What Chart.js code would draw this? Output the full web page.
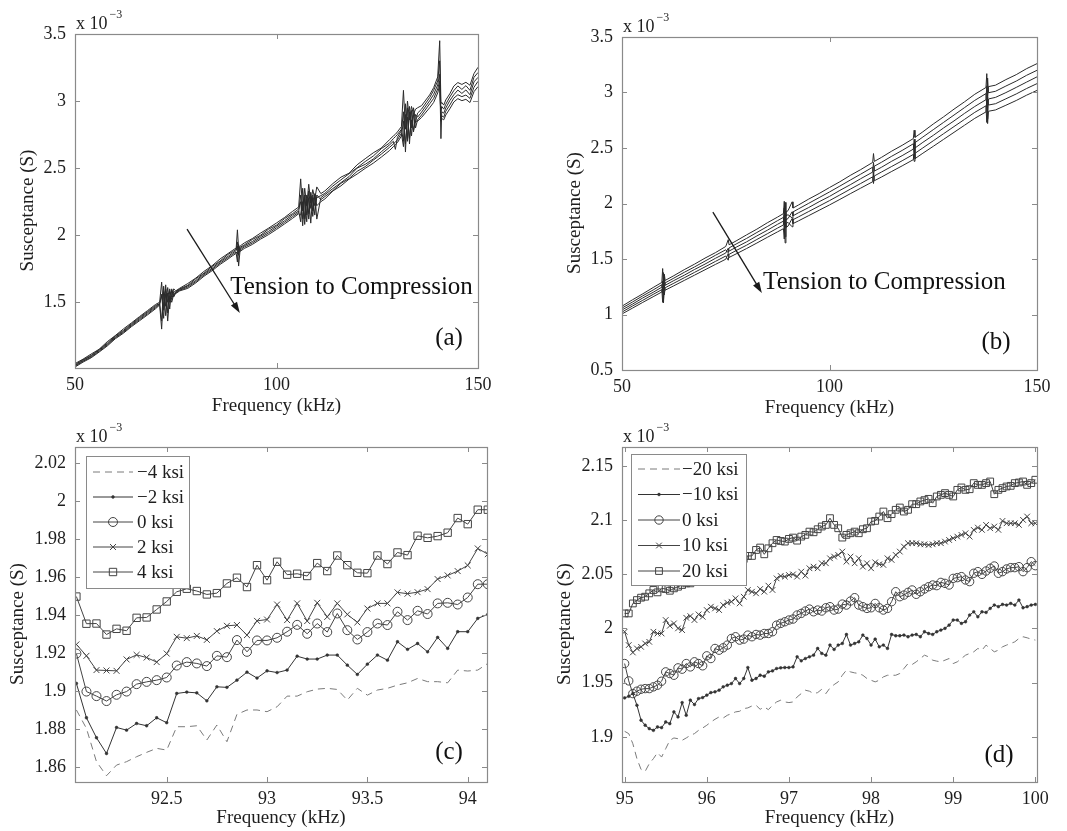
<!DOCTYPE html>
<html>
<head>
<meta charset="utf-8">
<title>Susceptance vs frequency</title>
<script src="https://cdn.jsdelivr.net/npm/chart.js@4.4.1/dist/chart.umd.min.js"></script>
<style>
  html, body { margin: 0; padding: 0; background: #fff; }
  #page { position: relative; width: 1067px; height: 831px; overflow: hidden; background: #fff; }
  canvas { position: absolute; }
</style>
</head>
<body>
<div id="page">
  <canvas id="chartA" width="493" height="414" style="left:5px;top:4px"></canvas>
  <canvas id="chartB" width="505" height="413" style="left:552px;top:7px"></canvas>
  <canvas id="chartC" width="502" height="415" style="left:5px;top:417px"></canvas>
  <canvas id="chartD" width="505" height="415" style="left:552px;top:417px"></canvas>
</div>
<script>
// ---- panel (a): 50-150 kHz, lines from tension (1) to compression (5), x10^-3 S
const freqA = [50,52,54,56,58,60,62,64,66,68,70,
  71,71.5,72,72.5,73,73.5,74,74.5,75,76,
  78,80,82,84,86,88,89,90,90.3,90.6,91,92,94,96,98,100,102,104,
  105.5,106,106.5,107,107.5,108,108.5,109,109.5,110,111,
  112,114,116,118,120,122,124,126,128,129,129.5,130,
  131,131.5,132,132.5,133,133.5,134,134.5,135,
  136,138,139,140,140.5,140.8,141,141.5,142,143,144,145,146,147,148,149,150];
const aLine1 = [1.043,1.076,1.114,1.150,1.206,1.252,1.301,1.346,1.393,1.438,1.484,
  1.50,1.65,1.44,1.60,1.50,1.58,1.54,1.60,1.585,1.605,
  1.640,1.681,1.730,1.772,1.823,1.864,1.885,1.905,2.04,1.90,1.92,1.942,1.975,2.015,2.052,2.091,2.132,2.178,
  2.21,2.42,2.18,2.35,2.22,2.38,2.24,2.34,2.27,2.36,2.31,
  2.330,2.385,2.433,2.462,2.525,2.570,2.614,2.650,2.711,2.740,2.752,2.770,
  2.81,3.08,2.79,3.00,2.86,2.96,2.90,2.94,2.95,
  2.966,3.046,3.10,3.18,3.45,2.98,2.99,2.97,3.008,3.054,3.112,3.138,3.124,3.140,3.118,3.205,3.252];
const aLine2 = [1.035,1.072,1.104,1.148,1.195,1.249,1.290,1.339,1.386,1.430,1.476,
  1.49,1.36,1.62,1.47,1.61,1.50,1.59,1.55,1.58,1.60,
  1.627,1.676,1.717,1.766,1.808,1.857,1.875,1.895,1.95,1.85,1.91,1.928,1.968,1.999,2.044,2.075,2.124,2.161,
  2.195,2.25,2.07,2.30,2.15,2.28,2.09,2.30,2.22,2.28,2.295,
  2.312,2.367,2.413,2.458,2.503,2.549,2.590,2.645,2.686,2.720,2.735,2.750,
  2.79,2.70,2.98,2.72,2.96,2.80,2.95,2.84,2.91,
  2.940,3.026,3.08,3.15,3.30,2.92,2.96,2.94,2.976,3.030,3.078,3.113,3.087,3.115,3.080,3.177,3.213];
const aLine3 = [1.029,1.066,1.099,1.142,1.188,1.241,1.283,1.332,1.378,1.423,1.468,
  1.49,1.56,1.38,1.63,1.42,1.60,1.52,1.58,1.575,1.595,
  1.622,1.663,1.712,1.753,1.802,1.843,1.865,1.885,1.92,1.77,1.90,1.921,1.953,1.992,2.028,2.067,2.108,2.152,
  2.18,2.10,2.35,2.12,2.30,2.16,2.32,2.18,2.31,2.12,2.28,
  2.302,2.348,2.392,2.437,2.500,2.528,2.568,2.622,2.672,2.700,2.640,2.730,
  2.78,2.92,2.62,2.95,2.68,2.93,2.77,2.90,2.88,
  2.918,3.002,3.05,3.12,3.20,2.72,2.92,2.91,2.948,3.003,3.047,3.082,3.057,3.083,3.047,3.143,3.177];
const aLine4 = [1.023,1.060,1.092,1.135,1.181,1.235,1.276,1.325,1.370,1.414,1.460,
  1.485,1.30,1.58,1.40,1.57,1.45,1.60,1.54,1.57,1.59,
  1.613,1.654,1.703,1.744,1.792,1.833,1.855,1.875,1.86,1.90,1.89,1.912,1.942,1.981,2.016,2.055,2.096,2.139,
  2.17,2.30,2.12,2.28,2.10,2.33,2.20,2.28,2.15,2.30,2.265,
  2.288,2.333,2.387,2.422,2.476,2.511,2.559,2.604,2.654,2.680,2.695,2.710,
  2.76,2.66,2.90,2.70,2.92,2.74,2.90,2.80,2.86,
  2.896,2.979,3.02,3.09,3.15,2.85,2.89,2.88,2.924,2.970,3.022,3.047,3.033,3.045,3.020,3.103,3.147];
const aLine5 = [1.017,1.054,1.086,1.129,1.174,1.228,1.269,1.318,1.362,1.406,1.452,
  1.48,1.55,1.47,1.56,1.36,1.55,1.50,1.56,1.565,1.585,
  1.604,1.645,1.694,1.735,1.782,1.823,1.845,1.865,1.80,1.93,1.88,1.901,1.931,1.970,2.004,2.043,2.084,2.126,
  2.16,2.15,2.25,2.08,2.27,2.12,2.29,2.14,2.30,2.22,2.25,
  2.270,2.330,2.368,2.418,2.456,2.498,2.537,2.582,2.630,2.660,2.675,2.690,
  2.74,2.85,2.68,2.88,2.72,2.86,2.78,2.85,2.85,
  2.878,2.950,2.99,3.06,3.12,2.88,2.87,2.86,2.896,2.942,2.993,3.018,3.003,3.013,2.989,3.070,3.108];

// ---- panel (b)
const freqB = [50,52.5,55,57.5,59.6,59.8,60,60.2,60.4,62.5,65,67.5,70,72.5,75,75.6,75.8,77.5,80,82.5,
  85,87.5,88.9,89.1,89.3,89.5,90,91,91.2,92.5,95,97.5,100,102.5,105,107.5,110.4,110.6,110.8,112.5,
  115,117.5,120.2,120.4,120.6,122.5,125,127.5,130,132.5,135,137.7,137.9,138.1,138.3,140,142.5,145,147.5,150];
const bLine1 = [1.075,1.132,1.186,1.243,1.289,1.414,1.249,1.363,1.307,1.350,1.404,1.454,1.508,1.557,1.613,1.674,1.628,1.663,1.717,1.769,
  1.826,1.878,1.909,2.020,1.850,1.923,1.935,2.015,1.959,1.986,2.040,2.090,2.144,2.196,2.253,2.305,2.370,2.450,2.379,2.415,
  2.472,2.524,2.585,2.660,2.596,2.646,2.716,2.781,2.850,2.915,2.984,3.045,3.170,2.950,3.053,3.066,3.116,3.161,3.215,3.260];
const bLine2 = [1.058,1.112,1.168,1.221,1.268,1.193,1.377,1.241,1.285,1.328,1.380,1.429,1.481,1.533,1.583,1.556,1.600,1.635,1.685,1.739,
  1.792,1.846,1.875,1.760,2.010,1.889,1.899,1.870,1.924,1.951,2.002,2.053,2.104,2.157,2.211,2.264,2.327,2.240,2.336,2.371,
  2.426,2.478,2.538,2.460,2.548,2.599,2.665,2.731,2.797,2.863,2.929,2.990,2.870,3.130,2.998,3.011,3.058,3.103,3.155,3.200];
const bLine3 = [1.041,1.093,1.149,1.200,1.246,1.301,1.105,1.339,1.263,1.306,1.354,1.406,1.454,1.506,1.554,1.597,1.571,1.606,1.654,1.708,
  1.759,1.813,1.841,1.960,1.645,1.854,1.864,1.925,1.889,1.916,1.964,2.016,2.064,2.118,2.169,2.223,2.283,2.370,2.292,2.326,
  2.381,2.431,2.490,2.580,2.500,2.551,2.614,2.681,2.744,2.811,2.874,2.935,3.060,2.760,2.942,2.956,2.999,3.046,3.094,3.141];
const bLine4 = [1.022,1.076,1.128,1.181,1.224,1.109,1.293,1.177,1.241,1.282,1.331,1.380,1.429,1.478,1.527,1.489,1.542,1.576,1.624,1.676,
  1.727,1.779,1.807,1.900,1.700,1.820,1.830,1.790,1.854,1.879,1.928,1.977,2.026,2.077,2.129,2.180,2.240,2.180,2.248,2.283,
  2.334,2.385,2.442,2.380,2.452,2.501,2.565,2.629,2.693,2.757,2.821,2.880,2.730,2.960,2.887,2.899,2.943,2.987,3.036,3.080];
const bLine5 = [1.005,1.057,1.109,1.160,1.203,1.248,1.131,1.245,1.219,1.259,1.307,1.355,1.403,1.451,1.498,1.550,1.514,1.546,1.594,1.644,
  1.695,1.745,1.773,1.680,1.900,1.785,1.796,1.865,1.819,1.843,1.891,1.939,1.987,2.037,2.088,2.138,2.196,2.280,2.205,2.238,
  2.289,2.339,2.395,2.500,2.404,2.453,2.515,2.578,2.641,2.704,2.767,2.825,2.930,2.720,2.831,2.843,2.885,2.928,2.976,3.019];

// ---- panel (c): 92-94 kHz zoom
const freqC = [92.05,92.1,92.15,92.2,92.25,92.3,92.35,92.4,92.45,92.5,92.55,92.6,92.65,92.7,92.75,92.8,92.85,92.9,92.95,93,
  93.05,93.1,93.15,93.2,93.25,93.3,93.35,93.4,93.45,93.5,93.55,93.6,93.65,93.7,93.75,93.8,93.85,93.9,93.95,94,94.05,94.1];
const labelsC = ['\u22124 ksi', '\u22122 ksi', '0 ksi', '2 ksi', '4 ksi'];
const cMinus4 = [1.8899,1.8802,1.8627,1.8553,1.8609,1.8627,1.8653,1.8676,1.8697,1.8688,1.8811,1.8811,1.8816,1.8741,1.8820,1.8732,1.8876,1.8899,1.8899,1.8890,
  1.8916,1.8972,1.8972,1.8995,1.9009,1.9013,1.9007,1.8951,1.9013,1.8977,1.9004,1.9013,1.9030,1.9042,1.9065,1.9048,1.9048,1.9042,1.9109,1.9104,1.9109,1.9144];
const cMinus2 = [1.9039,1.8858,1.8753,1.8670,1.8807,1.8793,1.8828,1.8816,1.8858,1.8832,1.8986,1.8993,1.8989,1.8947,1.9021,1.9018,1.9056,1.9098,1.9067,1.9105,
  1.9096,1.9109,1.9182,1.9167,1.9167,1.9188,1.9188,1.9135,1.9086,1.9140,1.9188,1.9161,1.9258,1.9218,1.9249,1.9205,1.9281,1.9223,1.9311,1.9311,1.9381,1.9402];
const cZero = [1.9196,1.8996,1.8972,1.8946,1.8979,1.8996,1.9035,1.9047,1.9056,1.9070,1.9133,1.9151,1.9144,1.9130,1.9184,1.9177,1.9267,1.9205,1.9265,1.9265,
  1.9279,1.9311,1.9347,1.9300,1.9354,1.9309,1.9407,1.9319,1.9270,1.9309,1.9354,1.9346,1.9416,1.9372,1.9421,1.9404,1.9460,1.9463,1.9454,1.9491,1.9561,1.9561];
const cPlus2 = [1.9244,1.9184,1.9109,1.9107,1.9105,1.9165,1.9189,1.9175,1.9151,1.9196,1.9284,1.9277,1.9289,1.9268,1.9314,1.9342,1.9346,1.9293,1.9368,1.9375,
  1.9454,1.9372,1.9460,1.9367,1.9463,1.9389,1.9460,1.9402,1.9360,1.9433,1.9460,1.9460,1.9518,1.9511,1.9519,1.9535,1.9588,1.9607,1.9630,1.9660,1.9749,1.9719];
const cPlus4 = [1.9496,1.9353,1.9354,1.9296,1.9326,1.9316,1.9384,1.9386,1.9428,1.9470,1.9521,1.9537,1.9525,1.9507,1.9514,1.9565,1.9595,1.9546,1.9661,1.9582,
  1.9679,1.9611,1.9616,1.9604,1.9672,1.9630,1.9712,1.9661,1.9621,1.9619,1.9712,1.9667,1.9728,1.9714,1.9816,1.9805,1.9814,1.9832,1.9909,1.9877,1.9953,1.9953];

// ---- panel (d): 95-100 kHz zoom
const freqD = [95,95.05,95.1,95.15,95.2,95.25,95.3,95.35,95.4,95.45,
  95.5,95.55,95.6,95.65,95.7,95.75,95.8,95.85,95.9,95.95,
  96,96.05,96.1,96.15,96.2,96.25,96.3,96.35,96.4,96.45,
  96.5,96.55,96.6,96.65,96.7,96.75,96.8,96.85,96.9,96.95,
  97,97.05,97.1,97.15,97.2,97.25,97.3,97.35,97.4,97.45,
  97.5,97.55,97.6,97.65,97.7,97.75,97.8,97.85,97.9,97.95,
  98,98.05,98.1,98.15,98.2,98.25,98.3,98.35,98.4,98.45,
  98.5,98.55,98.6,98.65,98.7,98.75,98.8,98.85,98.9,98.95,
  99,99.05,99.1,99.15,99.2,99.25,99.3,99.35,99.4,99.45,
  99.5,99.55,99.6,99.65,99.7,99.75,99.8,99.85,99.9,99.95,100];
const labelsD = ['\u221220 ksi', '\u221210 ksi', '0 ksi', '10 ksi', '20 ksi'];
const dMinus20 = [1.9052,1.9031,1.8938,1.8800,1.8701,1.8683,1.8754,1.8800,1.8855,1.8815,
  1.8892,1.8969,1.8991,1.8984,1.8969,1.8991,1.9015,1.9031,1.9061,1.9083,
  1.9108,1.9138,1.9163,1.9185,1.9175,1.9200,1.9215,1.9231,1.9237,1.9262,
  1.9268,1.9286,1.9292,1.9255,1.9277,1.9252,1.9292,1.9323,1.9339,1.9323,
  1.9317,1.9323,1.9369,1.9400,1.9431,1.9422,1.9400,1.9409,1.9440,1.9400,
  1.9452,1.9483,1.9508,1.9569,1.9616,1.9600,1.9591,1.9585,1.9569,1.9539,
  1.9523,1.9508,1.9523,1.9554,1.9569,1.9569,1.9569,1.9585,1.9631,1.9677,
  1.9668,1.9693,1.9723,1.9754,1.9739,1.9708,1.9699,1.9693,1.9708,1.9723,
  1.9677,1.9693,1.9723,1.9754,1.9770,1.9785,1.9816,1.9800,1.9847,1.9816,
  1.9785,1.9800,1.9831,1.9847,1.9862,1.9877,1.9908,1.9924,1.9914,1.9902,1.9893];
const dMinus10 = [1.9360,1.9375,1.9400,1.9292,1.9154,1.9108,1.9077,1.9061,1.9092,1.9086,
  1.9138,1.9123,1.9231,1.9185,1.9317,1.9200,1.9339,1.9299,1.9354,1.9363,
  1.9385,1.9409,1.9416,1.9431,1.9462,1.9477,1.9492,1.9539,1.9492,1.9539,
  1.9640,1.9523,1.9539,1.9569,1.9560,1.9600,1.9609,1.9631,1.9637,1.9640,
  1.9640,1.9646,1.9739,1.9702,1.9723,1.9739,1.9754,1.9816,1.9770,1.9754,
  1.9847,1.9807,1.9847,1.9862,1.9945,1.9847,1.9862,1.9877,1.9939,1.9908,
  1.9847,1.9902,1.9831,1.9847,1.9816,1.9945,1.9933,1.9933,1.9939,1.9924,
  1.9939,1.9945,1.9924,1.9970,1.9954,1.9945,1.9970,1.9985,2.0001,2.0031,
  2.0078,2.0078,2.0047,2.0062,2.0124,2.0154,2.0108,2.0154,2.0148,2.0185,
  2.0216,2.0201,2.0222,2.0216,2.0231,2.0216,2.0262,2.0191,2.0201,2.0216,2.0222];
const dZero = [1.9677,1.9517,1.9400,1.9422,1.9440,1.9446,1.9446,1.9462,1.9477,1.9514,
  1.9600,1.9585,1.9569,1.9637,1.9625,1.9677,1.9646,1.9693,1.9677,1.9656,
  1.9748,1.9723,1.9816,1.9800,1.9822,1.9847,1.9908,1.9924,1.9893,1.9902,
  1.9939,1.9924,1.9945,1.9939,1.9954,1.9954,1.9970,2.0031,2.0047,2.0062,
  2.0078,2.0087,2.0124,2.0139,2.0161,2.0179,2.0154,2.0170,2.0161,2.0191,
  2.0201,2.0170,2.0179,2.0225,2.0216,2.0253,2.0284,2.0216,2.0201,2.0185,
  2.0191,2.0231,2.0191,2.0170,2.0185,2.0247,2.0339,2.0293,2.0308,2.0333,
  2.0355,2.0315,2.0339,2.0364,2.0385,2.0401,2.0395,2.0425,2.0416,2.0401,
  2.0462,2.0469,2.0478,2.0447,2.0432,2.0509,2.0524,2.0499,2.0530,2.0555,
  2.0576,2.0509,2.0524,2.0549,2.0561,2.0561,2.0570,2.0524,2.0561,2.0616,2.0579];
const dPlus10 = [1.9970,1.9847,1.9779,1.9816,1.9831,1.9862,1.9877,1.9970,1.9954,1.9954,
  2.0078,2.0025,2.0047,2.0001,1.9985,2.0099,2.0114,2.0078,2.0130,2.0108,
  2.0170,2.0201,2.0185,2.0170,2.0216,2.0238,2.0247,2.0278,2.0231,2.0293,
  2.0355,2.0339,2.0324,2.0364,2.0339,2.0395,2.0355,2.0462,2.0484,2.0478,
  2.0493,2.0499,2.0478,2.0524,2.0487,2.0555,2.0570,2.0555,2.0601,2.0601,
  2.0647,2.0663,2.0678,2.0709,2.0616,2.0663,2.0601,2.0647,2.0570,2.0601,
  2.0555,2.0610,2.0592,2.0586,2.0647,2.0632,2.0678,2.0709,2.0755,2.0786,
  2.0786,2.0786,2.0776,2.0776,2.0770,2.0776,2.0786,2.0786,2.0801,2.0816,
  2.0832,2.0847,2.0863,2.0878,2.0847,2.0909,2.0930,2.0909,2.0955,2.0924,
  2.0940,2.0909,2.0992,2.0970,2.0970,2.0970,2.0955,2.1001,2.1032,2.0970,2.0970];
const dPlus20 = [2.0139,2.0139,2.0231,2.0262,2.0284,2.0293,2.0324,2.0355,2.0333,2.0370,
  2.0364,2.0348,2.0370,2.0385,2.0401,2.0416,2.0416,2.0438,2.0456,2.0462,
  2.0478,2.0499,2.0509,2.0524,2.0549,2.0561,2.0579,2.0601,2.0616,2.0641,
  2.0669,2.0669,2.0724,2.0746,2.0684,2.0739,2.0786,2.0816,2.0807,2.0801,
  2.0826,2.0838,2.0810,2.0847,2.0863,2.0893,2.0887,2.0915,2.0940,2.0955,
  2.1017,2.0955,2.0924,2.0838,2.0863,2.0878,2.0893,2.0878,2.0915,2.0924,
  2.0986,2.0992,2.1032,2.1078,2.1017,2.1054,2.1094,2.1115,2.1078,2.1094,
  2.1146,2.1146,2.1171,2.1183,2.1195,2.1155,2.1217,2.1232,2.1248,2.1232,
  2.1217,2.1278,2.1300,2.1278,2.1284,2.1340,2.1324,2.1324,2.1340,2.1355,
  2.1238,2.1278,2.1294,2.1309,2.1315,2.1340,2.1346,2.1355,2.1324,2.1340,2.1371];

// tick values
const ticksAX = [50, 100, 150], ticksAY = [1.5, 2, 2.5, 3, 3.5];
const ticksBX = [50, 100, 150], ticksBY = [0.5, 1, 1.5, 2, 2.5, 3, 3.5];
const ticksCX = [92.5, 93, 93.5, 94], ticksCY = [1.86, 1.88, 1.9, 1.92, 1.94, 1.96, 1.98, 2, 2.02];
const ticksDX = [95, 96, 97, 98, 99, 100], ticksDY = [1.9, 1.95, 2, 2.05, 2.1, 2.15];

// ---------------------------------------------------------------
const SERIF = "'Liberation Serif', 'Times New Roman', serif";
const INK = '#1e1e1e';
const FRAME = '#8a8a8a';
const TICK_LEN = 5;

function pairs(xs, ys) {
  return xs.map((x, i) => ({ x: x, y: ys[i] }));
}

function fmt(v) {
  return String(Number(v.toFixed(3)));
}

function axis(range, tickValues, title, isX, titlePad) {
  return {
    type: 'linear',
    min: range[0],
    max: range[1],
    afterBuildTicks: s => { s.ticks = tickValues.map(v => ({ value: v })); },
    afterFit: s => { if (isX) s.height = 50; else s.width = 70; },
    grid: { display: false, drawTicks: false },
    border: { display: false },
    ticks: {
      autoSkip: false, maxRotation: 0, color: INK,
      padding: isX ? 6 : 9,
      font: { family: SERIF, size: 18 },
      callback: v => fmt(v)
    },
    title: {
      display: true, text: title, color: INK,
      font: { family: SERIF, size: 19 },
      padding: isX ? { top: 0, bottom: titlePad } : { top: titlePad, bottom: 0 }
    }
  };
}

function drawArrow(ctx, x0, y0, x1, y1) {
  const ang = Math.atan2(y1 - y0, x1 - x0), head = 11, half = 3.6;
  ctx.beginPath();
  ctx.moveTo(x0, y0);
  ctx.lineTo(x1 - Math.cos(ang) * head * 0.7, y1 - Math.sin(ang) * head * 0.7);
  ctx.stroke();
  ctx.beginPath();
  ctx.moveTo(x1, y1);
  ctx.lineTo(x1 - head * Math.cos(ang) + half * Math.sin(ang), y1 - head * Math.sin(ang) - half * Math.cos(ang));
  ctx.lineTo(x1 - head * Math.cos(ang) - half * Math.sin(ang), y1 - head * Math.sin(ang) + half * Math.cos(ang));
  ctx.closePath();
  ctx.fill();
}

function drawMarker(ctx, ds, x, y) {
  const opts = { pointStyle: ds.pointStyle, radius: ds.pointRadius, borderWidth: ds.pointBorderWidth, rotation: 0 };
  if (Chart.helpers && Chart.helpers.drawPoint) {
    Chart.helpers.drawPoint(ctx, opts, x, y);
  } else {
    ctx.beginPath();
    ctx.arc(x, y, ds.pointRadius, 0, Math.PI * 2);
    ctx.fill();
    ctx.stroke();
  }
}

function drawLegend(chart, lg) {
  const { ctx, chartArea: a } = chart;
  const bx = a.left + lg.x, by = a.top + lg.y;
  ctx.fillStyle = '#fff';
  ctx.fillRect(bx, by, lg.w, lg.h);
  ctx.strokeStyle = FRAME;
  ctx.lineWidth = 1;
  ctx.strokeRect(bx + 0.5, by + 0.5, lg.w, lg.h);
  chart.data.datasets.forEach((ds, i) => {
    const ry = by + lg.rowTop + i * lg.rowGap;
    ctx.save();
    ctx.strokeStyle = ds.borderColor;
    ctx.lineWidth = 1;
    ctx.setLineDash(ds.borderDash || []);
    ctx.beginPath();
    ctx.moveTo(bx + lg.lineFrom, ry);
    ctx.lineTo(bx + lg.lineTo, ry);
    ctx.stroke();
    ctx.setLineDash([]);
    if (ds.pointRadius > 0) {
      ctx.fillStyle = ds.pointBackgroundColor || 'rgba(0,0,0,0)';
      ctx.strokeStyle = ds.pointBorderColor || ds.borderColor;
      ctx.lineWidth = ds.pointBorderWidth || 1;
      drawMarker(ctx, ds, bx + (lg.lineFrom + lg.lineTo) / 2, ry);
    }
    ctx.fillStyle = INK;
    ctx.font = '19px ' + SERIF;
    ctx.textAlign = 'left';
    ctx.textBaseline = 'middle';
    ctx.fillText(ds.label, bx + lg.textX, ry + 1);
    ctx.restore();
  });
}

// frame, inward ticks, exponent, legend and notes (MATLAB look)
function makeDecor(d) {
  return {
    id: 'panelDecor',
    afterDatasetsDraw(chart) {
      const { ctx, chartArea: a, scales: { x, y } } = chart;
      ctx.save();
      ctx.strokeStyle = FRAME;
      ctx.lineWidth = 1;
      ctx.beginPath();
      x.ticks.forEach(t => {
        const px = Math.round(x.getPixelForValue(t.value)) + 0.5;
        ctx.moveTo(px, a.bottom); ctx.lineTo(px, a.bottom - TICK_LEN);
        ctx.moveTo(px, a.top); ctx.lineTo(px, a.top + TICK_LEN);
      });
      y.ticks.forEach(t => {
        const py = Math.round(y.getPixelForValue(t.value)) + 0.5;
        ctx.moveTo(a.left, py); ctx.lineTo(a.left + TICK_LEN, py);
        ctx.moveTo(a.right, py); ctx.lineTo(a.right - TICK_LEN, py);
      });
      ctx.stroke();
      ctx.lineWidth = 1.2;
      ctx.strokeRect(a.left + 0.5, a.top + 0.5, a.right - a.left, a.bottom - a.top);

      // x 10^-3 above the axis
      ctx.fillStyle = INK;
      ctx.textAlign = 'left';
      ctx.textBaseline = 'alphabetic';
      ctx.font = '18px ' + SERIF;
      ctx.fillText('x 10', a.left + 1, a.top - 5);
      const w = ctx.measureText('x 10').width;
      ctx.font = '12px ' + SERIF;
      ctx.fillText('\u22123', a.left + 3 + w, a.top - 16);

      if (d.legend) drawLegend(chart, d.legend);

      if (d.arrow) {
        ctx.strokeStyle = '#1a1a1a';
        ctx.fillStyle = '#1a1a1a';
        ctx.lineWidth = 1.3;
        drawArrow(ctx,
          x.getPixelForValue(d.arrow.from[0]), y.getPixelForValue(d.arrow.from[1]),
          x.getPixelForValue(d.arrow.to[0]), y.getPixelForValue(d.arrow.to[1]));
      }
      if (d.note) {
        ctx.fillStyle = '#111';
        ctx.font = '25px ' + SERIF;
        ctx.textAlign = 'left';
        ctx.textBaseline = 'middle';
        ctx.fillText(d.note.text, x.getPixelForValue(d.note.at[0]), y.getPixelForValue(d.note.at[1]));
      }
      ctx.fillStyle = '#111';
      ctx.font = '25px ' + SERIF;
      ctx.textAlign = 'center';
      ctx.textBaseline = 'middle';
      ctx.fillText(d.letter, a.right + d.letterAt[0], a.bottom + d.letterAt[1]);
      ctx.restore();
    }
  };
}

function makeChart(id, cfg) {
  return new Chart(document.getElementById(id), {
    type: 'line',
    data: { datasets: cfg.datasets },
    options: {
      responsive: false,
      animation: false,
      devicePixelRatio: 1,
      events: [],
      layout: { padding: { top: 30, right: 20, left: 0, bottom: 0 } },
      scales: {
        x: axis(cfg.xRange, cfg.xTicks, 'Frequency (kHz)', true, cfg.xTitlePad),
        y: axis(cfg.yRange, cfg.yTicks, 'Susceptance (S)    ', false, cfg.yTitlePad)
      },
      plugins: { legend: { display: false }, tooltip: { enabled: false } }
    },
    plugins: [makeDecor(cfg.decor)]
  });
}

function bundle(xs, lines) {
  return lines.map((ys, i) => ({
    label: 'line ' + (i + 1),
    data: pairs(xs, ys),
    borderColor: '#2a2a2a',
    borderWidth: 1,
    pointRadius: 0,
    tension: 0
  }));
}

function markerSets(xs, lines, labels, big) {
  const styles = [
    { borderColor: '#7a7a7a', borderDash: [7, 5], pointRadius: 0 },
    { borderColor: '#333', pointStyle: 'circle', pointRadius: 1.4, pointBackgroundColor: '#333', pointBorderColor: '#333', pointBorderWidth: 0.5 },
    { borderColor: '#444', pointStyle: 'circle', pointRadius: big ? 4.5 : 4.2, pointBackgroundColor: 'rgba(0,0,0,0)', pointBorderColor: '#444', pointBorderWidth: 1 },
    { borderColor: '#444', pointStyle: 'crossRot', pointRadius: big ? 4.2 : 4, pointBorderColor: '#444', pointBorderWidth: 1 },
    { borderColor: '#444', pointStyle: 'rect', pointRadius: big ? 5.2 : 4.8, pointBackgroundColor: 'rgba(0,0,0,0)', pointBorderColor: '#444', pointBorderWidth: 1 }
  ];
  return lines.map((ys, i) => Object.assign({
    label: labels[i],
    data: pairs(xs, ys),
    borderWidth: 1,
    tension: 0
  }, styles[i]));
}

makeChart('chartA', {
  datasets: bundle(freqA, [aLine1, aLine2, aLine3, aLine4, aLine5]),
  xRange: [50, 150], yRange: [1.01, 3.5],
  xTicks: ticksAX, yTicks: ticksAY,
  xTitlePad: 0.6, yTitlePad: 11.6,
  decor: {
    letter: '(a)', letterAt: [-29, -30],
    arrow: { from: [77.8, 2.046], to: [90.9, 1.42] },
    note: { text: 'Tension to Compression', at: [88.5, 1.613] }
  }
});

makeChart('chartB', {
  datasets: bundle(freqB, [bLine1, bLine2, bLine3, bLine4, bLine5]),
  xRange: [50, 150], yRange: [0.5, 3.5],
  xTicks: ticksBX, yTicks: ticksBY,
  xTitlePad: 0.6, yTitlePad: 11.6,
  decor: {
    letter: '(b)', letterAt: [-41, -28],
    arrow: { from: [71.9, 1.923], to: [83.7, 1.194] },
    note: { text: 'Tension to Compression', at: [84.0, 1.293] }
  }
});

makeChart('chartC', {
  datasets: markerSets(freqC, [cMinus4, cMinus2, cZero, cPlus2, cPlus4], labelsC, true),
  xRange: [92.043, 94.096], yRange: [1.852, 2.0283],
  xTicks: ticksCX, yTicks: ticksCY,
  xTitlePad: 2.6, yTitlePad: 1.6,
  decor: {
    letter: '(c)', letterAt: [-38, -30],
    legend: { x: 11, y: 9, w: 103, h: 132, rowTop: 16, rowGap: 25, lineFrom: 7, lineTo: 47, textX: 51 }
  }
});

makeChart('chartD', {
  datasets: markerSets(freqD, [dMinus20, dMinus10, dZero, dPlus10, dPlus20], labelsD, false),
  xRange: [94.968, 100.02], yRange: [1.8585, 2.1673],
  xTicks: ticksDX, yTicks: ticksDY,
  xTitlePad: 2.6, yTitlePad: 1.6,
  decor: {
    letter: '(d)', letterAt: [-38, -27],
    legend: { x: 9, y: 7, w: 115, h: 131, rowTop: 15, rowGap: 25.5, lineFrom: 7, lineTo: 49, textX: 51 }
  }
});
</script>
</body>
</html>
